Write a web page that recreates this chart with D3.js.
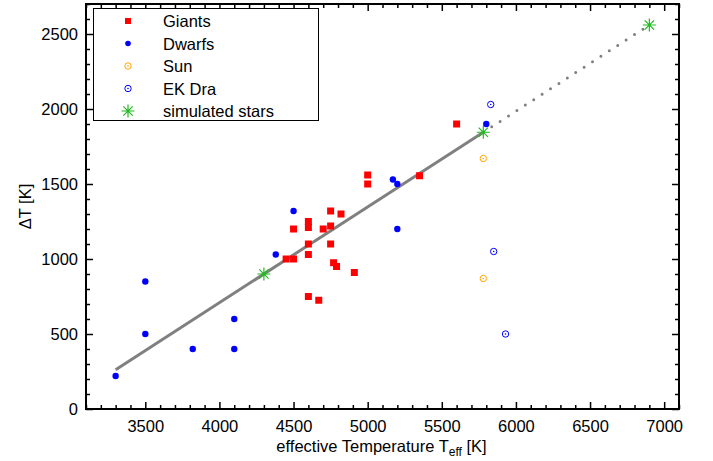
<!DOCTYPE html>
<html>
<head>
<meta charset="utf-8">
<script src="https://cdn.jsdelivr.net/npm/d3@7"></script>
<style>
  html, body { margin: 0; padding: 0; background: #fff; }
  svg { display: block; font-family: "Liberation Sans", Arial, Helvetica, sans-serif; }
</style>
</head>
<body>
<svg id="chart" width="713" height="461"></svg>
<script>
// Temperature difference vs. effective temperature of stars
const giants = [
  [5600, 1900], [5350, 1555], [5000, 1560], [5000, 1500], [4750, 1320],
  [4820, 1300], [4600, 1250], [4600, 1210], [4500, 1200], [4700, 1200],
  [4750, 1220], [4600, 1100], [4750, 1100], [4600, 1030], [4450, 1000],
  [4500, 1000], [4770, 975], [4790, 950], [4910, 910], [4600, 750], [4670, 725]
];
const dwarfs = [
  [3300, 220], [3500, 850], [3500, 500], [3820, 400], [4100, 600], [4100, 400],
  [4380, 1030], [4500, 1320], [5170, 1530], [5200, 1500], [5200, 1200], [5800, 1900]
];
const sun = [[5780, 1670], [5780, 870]];
const ekDra = [[5830, 2030], [5850, 1050], [5930, 500]];
const simulated = [[4300, 900], [5780, 1845], [6900, 2560]];
// linear fit: solid over the observed range, dotted extrapolation
const fitSolid = [[3300, 262], [5780, 1845]];
const fitDotted = [[5780, 1845], [6900, 2560]];

const xTicks = [3500, 4000, 4500, 5000, 5500, 6000, 6500, 7000];
const yTicks = [0, 500, 1000, 1500, 2000, 2500];
const legendLabels = ["Giants", "Dwarfs", "Sun", "EK Dra", "simulated stars"];

const FS = 16.5;
const svg = d3.select("#chart");
const m = { left: 86, right: 679, top: 4, bottom: 409 };
const x = d3.scaleLinear().domain([3100, 7100]).range([m.left, m.right]);
const y = d3.scaleLinear().domain([0, 2700]).range([m.bottom, m.top]);

const RED = "#ff0000", BLUE = "#0000ff", ORANGE = "#ffa500", GREEN = "#22b922", GRAY = "#808080";

// fit line
const line = d3.line().x(d => x(d[0])).y(d => y(d[1]));
svg.append("path").attr("d", line(fitSolid))
  .attr("fill", "none").attr("stroke", GRAY).attr("stroke-width", 3);
svg.append("path").attr("d", line(fitDotted))
  .attr("fill", "none").attr("stroke", GRAY).attr("stroke-width", 3)
  .attr("stroke-linecap", "round").attr("stroke-dasharray", "0 10");

// marker painters
function square(g, cx, cy, s) {
  g.append("rect").attr("x", cx - s / 2).attr("y", cy - s / 2)
    .attr("width", s).attr("height", s).attr("fill", RED);
}
function dot(g, cx, cy, r) {
  g.append("circle").attr("cx", cx).attr("cy", cy).attr("r", r).attr("fill", BLUE);
}
function ringDot(g, cx, cy, color) {
  g.append("circle").attr("cx", cx).attr("cy", cy).attr("r", 3.2)
    .attr("fill", "none").attr("stroke", color).attr("stroke-width", 1);
  g.append("circle").attr("cx", cx).attr("cy", cy).attr("r", 0.8).attr("fill", color);
}
function asterisk(g, cx, cy, h) {
  const d = h * 0.72;
  g.append("path")
    .attr("d", `M${cx - h},${cy}H${cx + h}M${cx},${cy - h}V${cy + h}` +
               `M${cx - d},${cy - d}L${cx + d},${cy + d}M${cx - d},${cy + d}L${cx + d},${cy - d}`)
    .attr("stroke", GREEN).attr("stroke-width", 1.2).attr("fill", "none");
}

const pts = svg.append("g");
giants.forEach(d => square(pts, x(d[0]), y(d[1]), 7));
dwarfs.forEach(d => dot(pts, x(d[0]), y(d[1]), 3.2));
sun.forEach(d => ringDot(pts, x(d[0]), y(d[1]), ORANGE));
ekDra.forEach(d => ringDot(pts, x(d[0]), y(d[1]), BLUE));
simulated.forEach(d => asterisk(pts, x(d[0]), y(d[1]), 6.5));

// axes: ticks pointing inward on all four sides
const minorX = d3.range(3100, 7101, 100).filter(v => v % 500 !== 0);
const minorY = d3.range(100, 2701, 100).filter(v => v % 500 !== 0);
function styleAxis(g) {
  g.select(".domain").remove();
  g.selectAll("line").attr("stroke", "#000").attr("stroke-width", 1.5);
  g.selectAll("text").attr("fill", "#000").attr("font-size", FS)
    .attr("font-family", "\"Liberation Sans\", Arial, sans-serif");
}
const axB = svg.append("g").attr("transform", `translate(0,${m.bottom})`)
  .call(d3.axisBottom(x).tickValues(xTicks).tickSize(-7).tickPadding(11).tickFormat(d3.format("d")));
axB.call(styleAxis);
svg.append("g").attr("transform", `translate(0,${m.bottom})`)
  .call(d3.axisBottom(x).tickValues(minorX).tickSize(-4).tickFormat("")).call(styleAxis);
svg.append("g").attr("transform", `translate(0,${m.top})`)
  .call(d3.axisTop(x).tickValues(xTicks).tickSize(-7).tickFormat("")).call(styleAxis);
svg.append("g").attr("transform", `translate(0,${m.top})`)
  .call(d3.axisTop(x).tickValues(minorX).tickSize(-4).tickFormat("")).call(styleAxis);

const axL = svg.append("g").attr("transform", `translate(${m.left},0)`)
  .call(d3.axisLeft(y).tickValues(yTicks).tickSize(-7).tickPadding(8).tickFormat(d3.format("d")));
axL.call(styleAxis);
svg.append("g").attr("transform", `translate(${m.left},0)`)
  .call(d3.axisLeft(y).tickValues(minorY).tickSize(-4).tickFormat("")).call(styleAxis);
svg.append("g").attr("transform", `translate(${m.right},0)`)
  .call(d3.axisRight(y).tickValues(yTicks).tickSize(-7).tickFormat("")).call(styleAxis);
svg.append("g").attr("transform", `translate(${m.right},0)`)
  .call(d3.axisRight(y).tickValues(minorY).tickSize(-4).tickFormat("")).call(styleAxis);

// frame
svg.append("rect").attr("x", m.left).attr("y", m.top)
  .attr("width", m.right - m.left).attr("height", m.bottom - m.top)
  .attr("fill", "none").attr("stroke", "#000").attr("stroke-width", 2);

// axis titles
const xt = svg.append("text").attr("x", (m.left + m.right) / 2 - 1).attr("y", 452)
  .attr("text-anchor", "middle").attr("font-size", FS).attr("fill", "#000");
xt.append("tspan").text("effective Temperature T");
xt.append("tspan").attr("font-size", 12).attr("dy", 4).text("eff");
xt.append("tspan").attr("dy", -4).text(" [K]");

svg.append("text").attr("transform", `translate(31,${(m.top + m.bottom) / 2}) rotate(-90)`)
  .attr("text-anchor", "middle").attr("font-size", FS).attr("fill", "#000").text("\u0394T [K]");

// legend
const lg = svg.append("g");
lg.append("rect").attr("x", 93.5).attr("y", 8.5).attr("width", 225).attr("height", 112)
  .attr("fill", "#fff").attr("stroke", "#000").attr("stroke-width", 1);
const rowY = i => 21 + i * 22.5;
const mx = 128;
square(lg, mx, rowY(0), 6);
dot(lg, mx, rowY(1), 2.8);
ringDot(lg, mx, rowY(2), ORANGE);
ringDot(lg, mx, rowY(3), BLUE);
asterisk(lg, mx, rowY(4), 6.5);
legendLabels.forEach((t, i) => {
  lg.append("text").attr("x", 163).attr("y", rowY(i) + 6)
    .attr("font-size", FS).attr("fill", "#000").text(t);
});
</script>
</body>
</html>
